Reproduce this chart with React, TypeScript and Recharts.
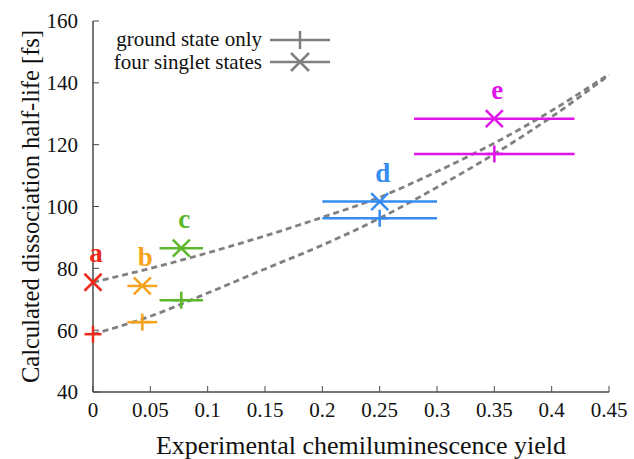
import React from 'react';
import { ComposedChart, Line, Scatter, XAxis, YAxis, ErrorBar } from 'recharts';

const sampleLetters = ['a', 'b', 'c', 'd', 'e'];
const sampleColors = ['#ee2a1a', '#f5a21c', '#5cb82a', '#368cf0', '#e014ea'];
const yieldValues = [0, 0.043, 0.077, 0.25, 0.35];
const yieldErrors = [0, 0.013, 0.019, 0.05, 0.07];
const groundHalfLife = [58.7, 62.6, 69.7, 96.2, 117.0];
const singletHalfLife = [75.5, 74.3, 86.5, 101.6, 128.4];

const fitX = [0, 0.05, 0.1, 0.15, 0.2, 0.25, 0.3, 0.35, 0.4, 0.45];
const groundFit = [58.7, 64.5, 72.0, 79.8, 87.5, 96.2, 106.2, 117.0, 129.0, 142.5];
const singletFit = [75.5, 80.0, 85.0, 90.5, 96.5, 103.0, 111.3, 120.5, 131.0, 142.8];

const xTicks = [0, 0.05, 0.1, 0.15, 0.2, 0.25, 0.3, 0.35, 0.4, 0.45];
const yTicks = [40, 60, 80, 100, 120, 140, 160];
const legendNames = ['ground state only', 'four singlet states'];

const FONT = '"Liberation Serif", "Times New Roman", serif';
const FRAME = '#4a4a4a';
const DASH = '#808080';

const groundLine = fitX.map((x, i) => ({ x, y: groundFit[i] }));
const singletLine = fitX.map((x, i) => ({ x, y: singletFit[i] }));

const PlusShape = (color: string) => (props: any) => {
  const { cx, cy } = props;
  if (cx == null || cy == null) return <g />;
  const s = 8.5;
  return (
    <g stroke={color} strokeWidth={2.5}>
      <line x1={cx - s} y1={cy} x2={cx + s} y2={cy} />
      <line x1={cx} y1={cy - s} x2={cx} y2={cy + s} />
    </g>
  );
};

const CrossShape = (color: string, letter: string) => (props: any) => {
  const { cx, cy } = props;
  if (cx == null || cy == null) return <g />;
  const s = 8.5;
  return (
    <g>
      <g stroke={color} strokeWidth={2.5}>
        <line x1={cx - s} y1={cy - s} x2={cx + s} y2={cy + s} />
        <line x1={cx - s} y1={cy + s} x2={cx + s} y2={cy - s} />
      </g>
      <text x={cx + 3} y={cy - 20} fill={color} fontFamily={FONT} fontWeight="bold" fontSize={27} textAnchor="middle">
        {letter}
      </text>
    </g>
  );
};

const LegendBox = () => (
  <svg width={260} height={54} style={{ position: 'absolute', left: 90, top: 26, display: 'block' }}>
    <g fontFamily={FONT} fontSize={21} fill="#111">
      <text x={172} y={20} textAnchor="end">{legendNames[0]}</text>
      <text x={172} y={43} textAnchor="end">{legendNames[1]}</text>
    </g>
    <g stroke={DASH} strokeWidth={2.5}>
      <line x1={180} y1={14} x2={240} y2={14} />
      <line x1={210} y1={5} x2={210} y2={23} />
      <line x1={180} y1={36} x2={240} y2={36} />
      <line x1={201} y1={27} x2={219} y2={45} />
      <line x1={201} y1={45} x2={219} y2={27} />
    </g>
  </svg>
);

const YTitle = (props: any) => {
  const vb = props.viewBox || {};
  const cy = vb.y + vb.height / 2;
  return (
    <text x={30} y={cy} transform={`rotate(-90 30 ${cy})`} textAnchor="middle" dominantBaseline="central"
      fontFamily={FONT} fontSize={24.5} fill="#111">
      Calculated dissociation half-life [fs]
    </text>
  );
};

const XTitle = (props: any) => {
  const vb = props.viewBox || {};
  const cx = vb.x + vb.width / 2;
  return (
    <text x={cx + 10} y={454} textAnchor="middle" fontFamily={FONT} fontSize={26} fill="#111">
      Experimental chemiluminescence yield
    </text>
  );
};

const tickStyle = { fontFamily: FONT, fontSize: 21, fill: '#111' };

export default function App() {
  return (
    <div style={{ position: 'absolute', left: 0, top: 0, width: 634, height: 459, background: '#fff' }}>
      <ComposedChart width={634} height={459} margin={{ top: 21, right: 25, bottom: 0, left: 0 }}>
        <XAxis xAxisId="main" dataKey="x" type="number" domain={[0, 0.45]} ticks={xTicks}
          height={67} tickSize={-6} tickMargin={16} tick={tickStyle}
          stroke={FRAME} axisLine={{ stroke: FRAME, strokeWidth: 1.5 }} tickLine={{ stroke: FRAME }}
          label={<XTitle />} />
        <XAxis xAxisId="top" orientation="top" dataKey="x" type="number" domain={[0, 0.45]} ticks={xTicks}
          height={0} tickSize={-6} tick={() => <g />}
          axisLine={{ stroke: FRAME, strokeWidth: 1.5 }} tickLine={{ stroke: FRAME }} />
        <YAxis yAxisId="main" type="number" domain={[40, 160]} ticks={yTicks}
          width={93} tickSize={-6} tickMargin={21} tick={tickStyle}
          axisLine={{ stroke: FRAME, strokeWidth: 1.5 }} tickLine={{ stroke: FRAME }}
          label={<YTitle />} />
        <YAxis yAxisId="right" orientation="right" type="number" domain={[40, 160]} ticks={yTicks}
          width={0} tickSize={-6} tick={() => <g />}
          axisLine={{ stroke: FRAME, strokeWidth: 1.5 }} tickLine={{ stroke: FRAME }} />
        <Line xAxisId="main" yAxisId="main" data={groundLine} dataKey="y" type="monotone" stroke={DASH}
          strokeWidth={2.8} strokeDasharray="6 4" dot={false} isAnimationActive={false} legendType="none" />
        <Line xAxisId="main" yAxisId="main" data={singletLine} dataKey="y" type="monotone" stroke={DASH}
          strokeWidth={2.8} strokeDasharray="6 4" dot={false} isAnimationActive={false} legendType="none" />
        {sampleLetters.map((letter, i) => (
          <Scatter key={'g' + letter} xAxisId="main" yAxisId="main" dataKey="y" isAnimationActive={false}
            legendType="none"
            data={[{ x: yieldValues[i], y: groundHalfLife[i], err: yieldErrors[i] }]}
            shape={PlusShape(sampleColors[i])}>
            {yieldErrors[i] > 0 && (
              <ErrorBar dataKey="err" direction="x" width={0} stroke={sampleColors[i]} strokeWidth={2.5} />
            )}
          </Scatter>
        ))}
        {sampleLetters.map((letter, i) => (
          <Scatter key={'s' + letter} xAxisId="main" yAxisId="main" dataKey="y" isAnimationActive={false}
            legendType="none"
            data={[{ x: yieldValues[i], y: singletHalfLife[i], err: yieldErrors[i] }]}
            shape={CrossShape(sampleColors[i], letter)}>
            {yieldErrors[i] > 0 && (
              <ErrorBar dataKey="err" direction="x" width={0} stroke={sampleColors[i]} strokeWidth={2.5} />
            )}
          </Scatter>
        ))}
      </ComposedChart>
      <LegendBox />
    </div>
  );
}
